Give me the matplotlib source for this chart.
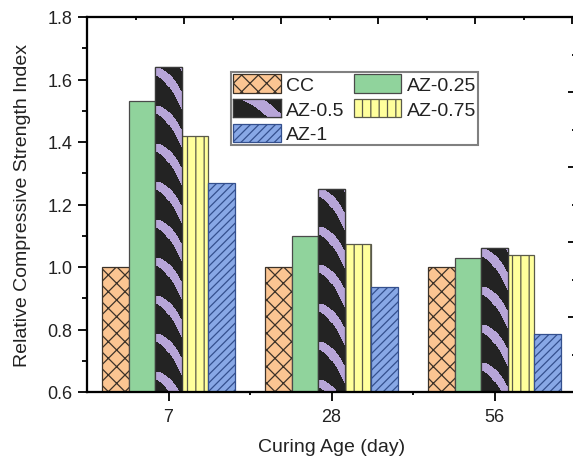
import numpy as np
import matplotlib
matplotlib.use("Agg")
import matplotlib.pyplot as plt
from matplotlib.ticker import MultipleLocator, FixedLocator

plt.rcParams['font.family'] = ['Liberation Sans', 'DejaVu Sans']
plt.rcParams['hatch.linewidth'] = 0.9

# relative compressive strength (mix / control) per curing age
ages = ['7', '28', '56']
mixes = ['CC', 'AZ-0.25', 'AZ-0.5', 'AZ-0.75', 'AZ-1']
cc = [1.00, 1.00, 1.00]
az_025 = [1.53, 1.10, 1.03]
az_05 = [1.64, 1.25, 1.06]
az_075 = [1.42, 1.075, 1.04]
az_1 = [1.27, 0.935, 0.785]
series = [cc, az_025, az_05, az_075, az_1]

faces = ['#fbc592', '#90d39c', '#262626', '#ffff9c', '#88a8e6']
edges = ['#3c3228', '#4a4a4a', '#3a3a3a', '#5a5a4a', '#34508e']
hatches = ['xx', None, None, '||', '////']
purple = np.array([0.72, 0.65, 0.85])
dark = np.array([0.14, 0.14, 0.14])


def zebra(ncols, nrows):
    # curved purple bands on a dark background
    c = np.arange(ncols)[None, :] / max(ncols - 1, 1)
    r = np.arange(nrows)[:, None]
    phase = (r - 24 * c ** 2) % 38
    band = phase < (8 + 10 * c)
    img = np.empty((nrows, ncols, 3))
    img[:] = dark
    img[band] = purple
    return img


fig = plt.figure(figsize=(5.73, 4.60), dpi=100)
ax = fig.add_axes([87 / 573, 67 / 460, 489 / 573, 375 / 460])

x = np.arange(len(ages))
w = 0.162
bars = []
for j, vals in enumerate(series):
    b = ax.bar(x + (j - 2) * w, vals, w, color=faces[j], edgecolor=edges[j],
               hatch=hatches[j], linewidth=0.9, label=mixes[j], zorder=2)
    bars.append(b)

ax.set_xlim(-0.5, 2.5)
ax.set_ylim(0.6, 1.8)

# texture the AZ-0.5 bars
for p in bars[2].patches:
    x0, x1 = p.get_x(), p.get_x() + p.get_width()
    y1 = p.get_height()
    (px0, py0), (px1, py1) = ax.transData.transform([(x0, 0.6), (x1, y1)])
    tex = zebra(int(round(px1 - px0)), int(round(py1 - py0)))
    im = ax.imshow(tex, extent=(x0, x1, 0.6, y1), aspect='auto',
                   interpolation='nearest', zorder=2.1)
    im.set_clip_path(p)
    ax.bar(p.get_x() + w / 2, y1, w, facecolor='none', edgecolor=edges[2],
           linewidth=0.9, zorder=2.2)
ax.set_xlim(-0.5, 2.5)
ax.set_ylim(0.6, 1.8)

ax.set_xticks(x)
ax.set_xticklabels(ages)
ax.xaxis.set_minor_locator(FixedLocator([0.5, 1.5]))
ax.yaxis.set_major_locator(MultipleLocator(0.2))
ax.yaxis.set_minor_locator(MultipleLocator(0.1))
ax.yaxis.set_major_formatter(plt.FormatStrFormatter('%.1f'))

for s in ax.spines.values():
    s.set_linewidth(1.5)
ax.tick_params(axis='both', which='major', direction='out', length=6.5,
               width=1.3, labelsize=13, labelcolor='#222222')
ax.tick_params(axis='x', which='minor', direction='out', length=2.5, width=1.3)
ax.tick_params(axis='y', which='minor', direction='out', length=3.5, width=1.3)
ax.tick_params(axis='y', which='major', pad=4)
ax.tick_params(axis='x', which='major', pad=5)

ax.set_xlabel('Curing Age (day)', fontsize=14, color='#222222')
ax.set_ylabel('Relative Compressive Strength Index', fontsize=14, color='#222222')
ax.xaxis.set_label_coords(0.5, -0.122)
ax.yaxis.set_label_coords(-0.114, 0.5)

# secondary scales on the right and top (labels outside the frame)
axr = ax.twinx()
axr.set_ylim(0, 5)
axr.yaxis.set_major_locator(MultipleLocator(1))
axr.yaxis.set_minor_locator(MultipleLocator(0.5))
axr.tick_params(axis='y', which='both', direction='in', labelright=False, width=1.3)
axr.tick_params(axis='y', which='major', length=6)
axr.tick_params(axis='y', which='minor', length=3)
axt = ax.twiny()
axt.set_xlim(0, 5.04)
axt.xaxis.set_major_locator(MultipleLocator(1))
axt.xaxis.set_minor_locator(MultipleLocator(0.5))
axt.tick_params(axis='x', which='both', direction='in', labeltop=False, width=1.3)
axt.tick_params(axis='x', which='major', length=5)
axt.tick_params(axis='x', which='minor', length=2.5)
for a in (axr, axt):
    for s in a.spines.values():
        s.set_linewidth(1.5)

order = [0, 2, 4, 1, 3]
handles = [bars[i] for i in order]
labels = [mixes[i] for i in order]
leg = ax.legend(handles, labels, ncol=2, loc='upper left',
                bbox_to_anchor=((231 - 87) / 489, (393 - 73) / 375),
                borderaxespad=0, fontsize=14, handlelength=2.45,
                handleheight=1.1, handletextpad=0.3, columnspacing=0.45,
                labelspacing=0.25, borderpad=0.1, fancybox=False,
                framealpha=1, edgecolor='#808080')
leg.get_frame().set_linewidth(1.5)
for t in leg.get_texts():
    t.set_color('#222222')

# texture the AZ-0.5 legend key
fig.canvas.draw()
renderer = fig.canvas.get_renderer()
hb = leg.legend_handles[1].get_window_extent(renderer)
key = fig.add_axes(hb.transformed(fig.transFigure.inverted()).bounds)
kw, kh = int(round(hb.width)), int(round(hb.height))
key.imshow(zebra(kw, kh * 2)[kh // 2:kh // 2 + kh, :],
           aspect='auto', interpolation='nearest')
key.set_xticks([])
key.set_yticks([])
for s in key.spines.values():
    s.set_linewidth(0.9)
    s.set_color(edges[2])

fig.savefig('out.png', dpi=100)
